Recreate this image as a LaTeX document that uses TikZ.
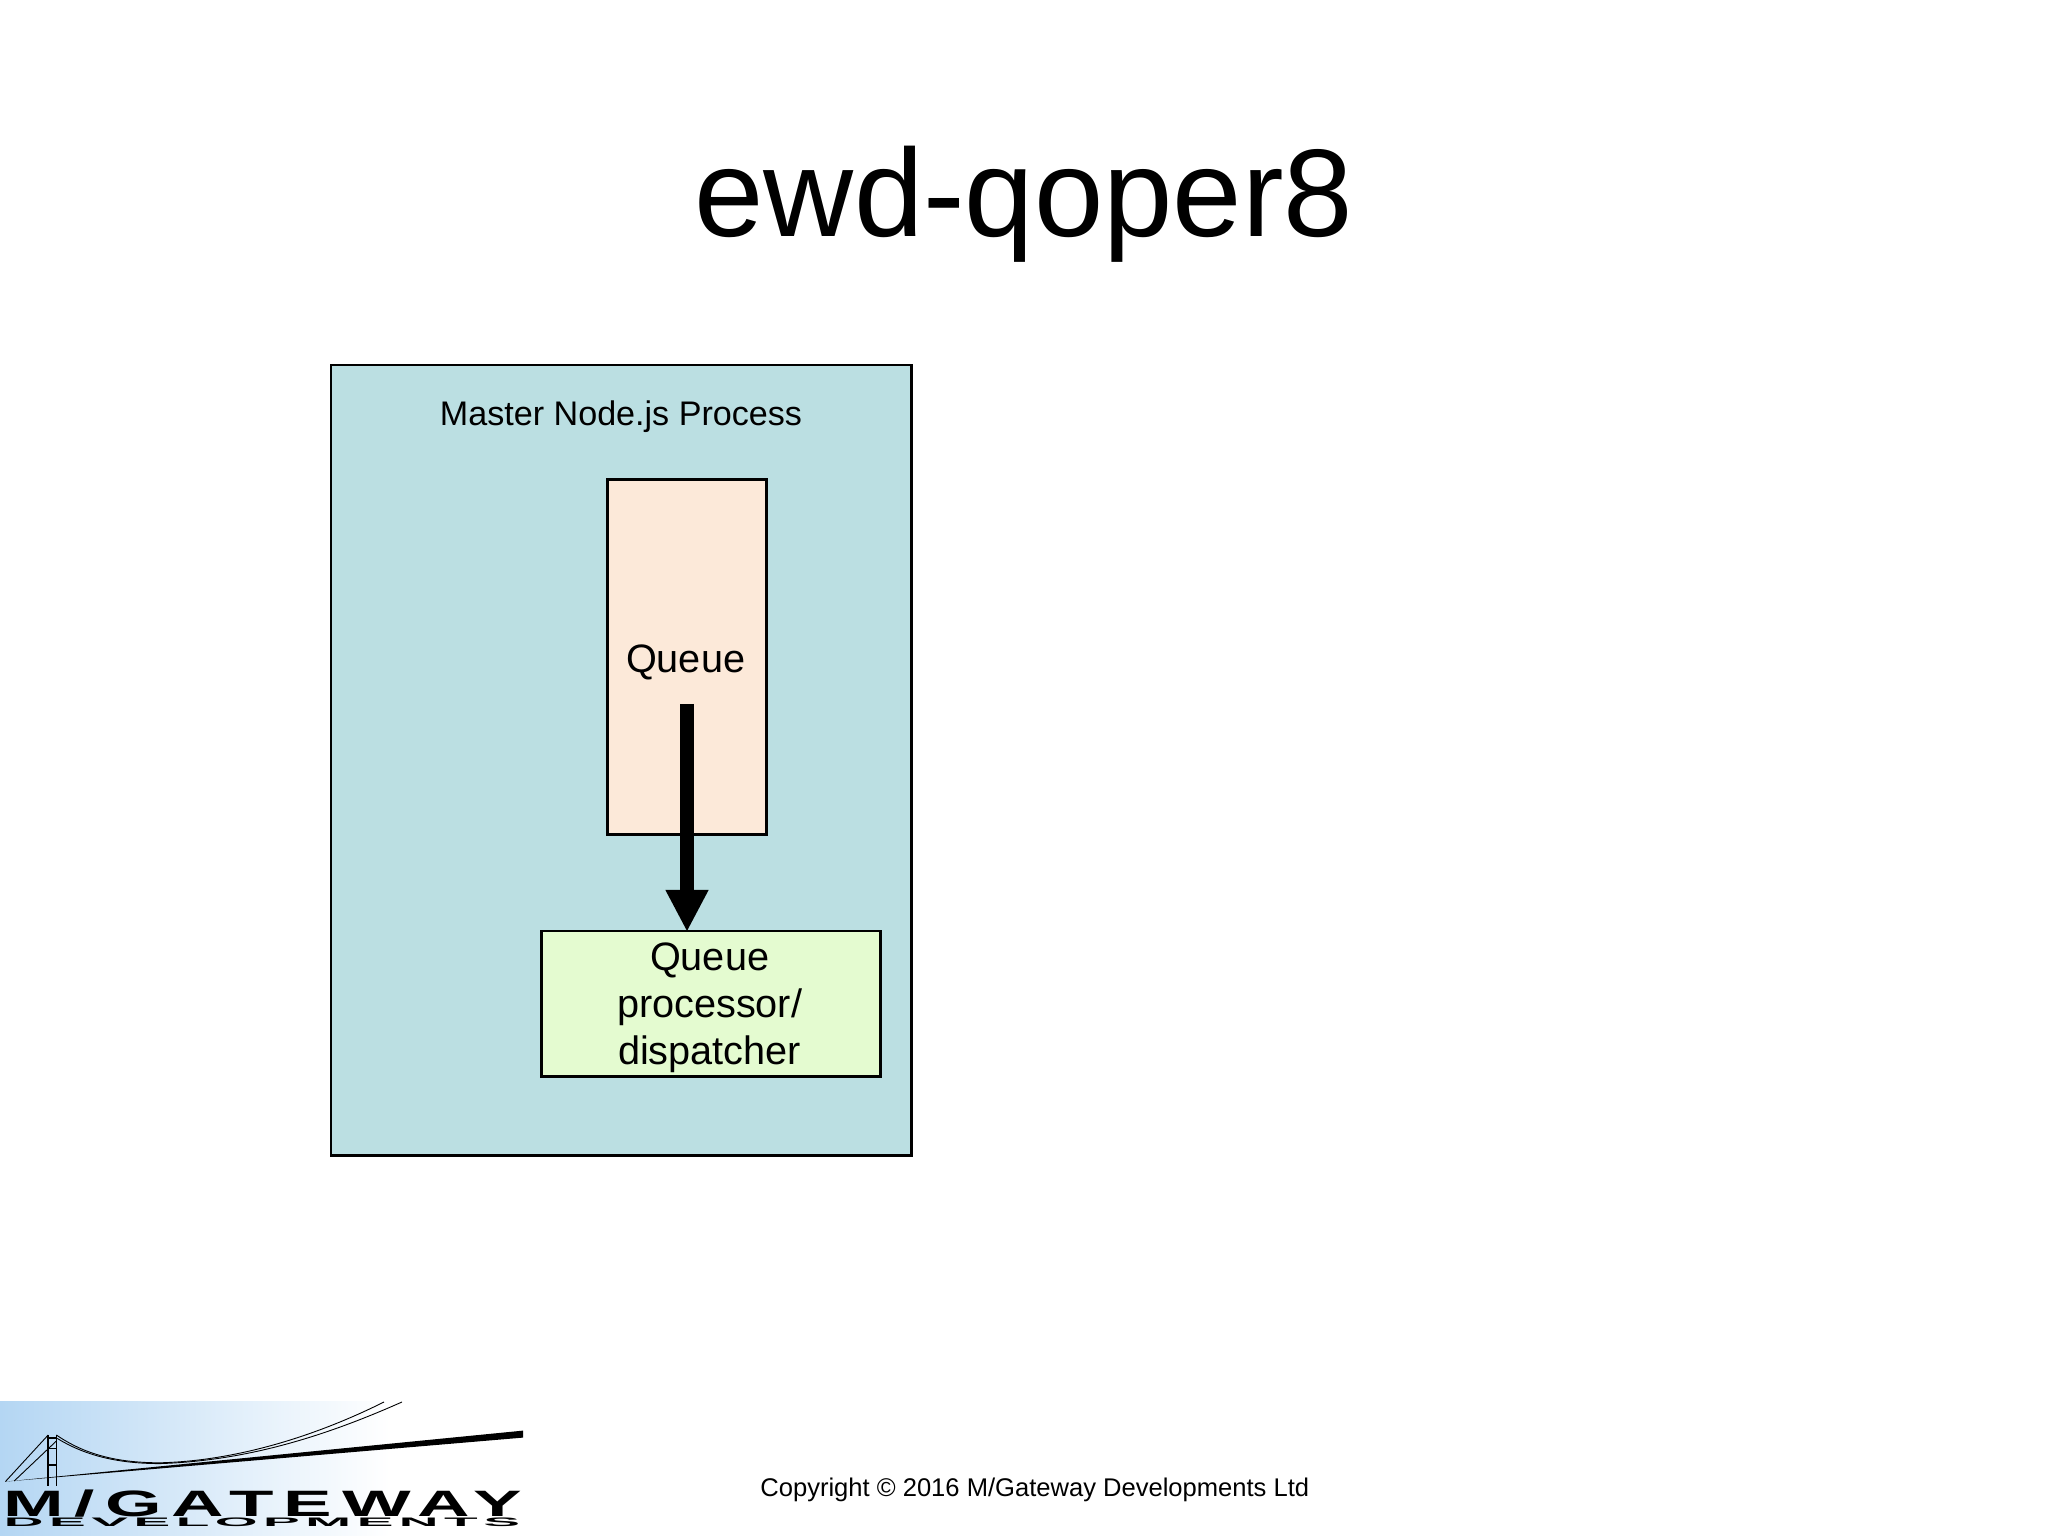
\documentclass[tikz,border=0pt]{standalone}
\usepackage{fontspec}
\setmainfont{Liberation Sans}
\usepackage{color}
\usepackage{tikz}
\usetikzlibrary{shapes,arrows,arrows.meta,positioning,calc}
\definecolor{procfill}{HTML}{BBDFE2}
\definecolor{queuefill}{HTML}{FCE9D9}
\definecolor{dispfill}{HTML}{E4FBD0}
\definecolor{logoblue}{HTML}{B4D6F3}
\tikzset{
  boxed/.style={draw,line width=1.3bp,inner sep=0pt},
  boxtext/.style={inner sep=0pt,align=center,font=\fontsize{19.9}{23.7}\selectfont},
  cable/.style={line width=0.45bp},
  tower/.style={line width=0.8bp},
}
\begin{document}
\begin{tikzpicture}[>={Triangle[width=20bp,length=21bp]},line join=miter]
\useasboundingbox (0bp,0bp) rectangle (1024bp,768bp);
%%
\node (title) at (512bp,649.5bp) [anchor=base,font=\fontsize{62.6}{70}\selectfont] {ewd-qoper8};
\node (master) at (310.6bp,387.8bp) [boxed,fill=procfill,minimum width=290.3bp,minimum height=395.4bp] {};
\node (masterlabel) at (310.5bp,555.1bp) [anchor=base,font=\fontsize{17.12}{20}\selectfont] {Master Node.js Process};
\node (queue) at (343.5bp,439.5bp) [boxed,fill=queuefill,minimum width=79.7bp,minimum height=177.6bp] {};
\node (queuelabel) at (342.8bp,437bp) [boxtext] {Queue};
\node (dispatcher) at (355.5bp,266bp) [boxed,fill=dispfill,minimum width=169.7bp,minimum height=72.8bp] {};
\node (displabel) at (354.8bp,264bp) [boxtext] {Queue\\processor/\\dispatcher};
\coordinate (qstart) at (343.5bp,416bp);
\draw [->,line width=7bp,shorten >=-1bp] (qstart) -- (dispatcher.north -| qstart);
%
% logo
\shade [left color=logoblue,right color=white] (0bp,0bp) rectangle (195bp,67bp);
\coordinate (decktip) at (2.7bp,27.2bp);
\coordinate (deckhi) at (261.6bp,52.7bp);
\coordinate (decklo) at (261.6bp,49.2bp);
\fill (decktip) -- (deckhi) -- (decklo) -- cycle;
\coordinate (towera) at (24.1bp,50.5bp);
\coordinate (towerb) at (28.2bp,50.5bp);
\coordinate (basea) at (24.1bp,25bp);
\coordinate (baseb) at (28.2bp,25bp);
\draw [tower] (towera) -- (basea);
\draw [tower] (towerb) -- (baseb);
\draw [tower] (24.1bp,49bp) -- (28.2bp,49bp);
\draw [tower] (24.1bp,43.8bp) -- (28.2bp,43.8bp);
\draw [tower] (24.1bp,35.5bp) -- (28.2bp,35.5bp);
\draw [cable] (towera) -- (decktip);
\draw [cable] (towerb) ++(0bp,-3bp) -- (7.1bp,27.5bp);
\draw [cable] (towerb) ..controls (42bp,41bp) and (58bp,36.6bp) .. (80bp,36.6bp)
  ..controls (120bp,37.6bp) and (160bp,51bp) .. (192bp,67bp);
\draw [cable] (28.6bp,48.8bp) ..controls (42bp,40.6bp) and (58bp,36.2bp) .. (80bp,36.2bp)
  ..controls (125bp,37.6bp) and (165bp,51bp) .. (201bp,67bp);
\node (gateway) at (131.5bp,16.3bp) [inner sep=0pt] {\resizebox{259bp}{13.3bp}{\raisebox{0pt}[\height][0pt]{\bfseries\addfontfeature{LetterSpace=14}M/GATEWAY}}};
\node (developments) at (131bp,6.8bp) [inner sep=0pt] {\resizebox{258bp}{4.3bp}{\bfseries\addfontfeature{LetterSpace=10}DEVELOPMENTS}};
\node (copyright) at (517.4bp,19.7bp) [anchor=base,font=\fontsize{12.83}{15}\selectfont] {Copyright © 2016 M/Gateway Developments Ltd};
%
\end{tikzpicture}
\end{document}
